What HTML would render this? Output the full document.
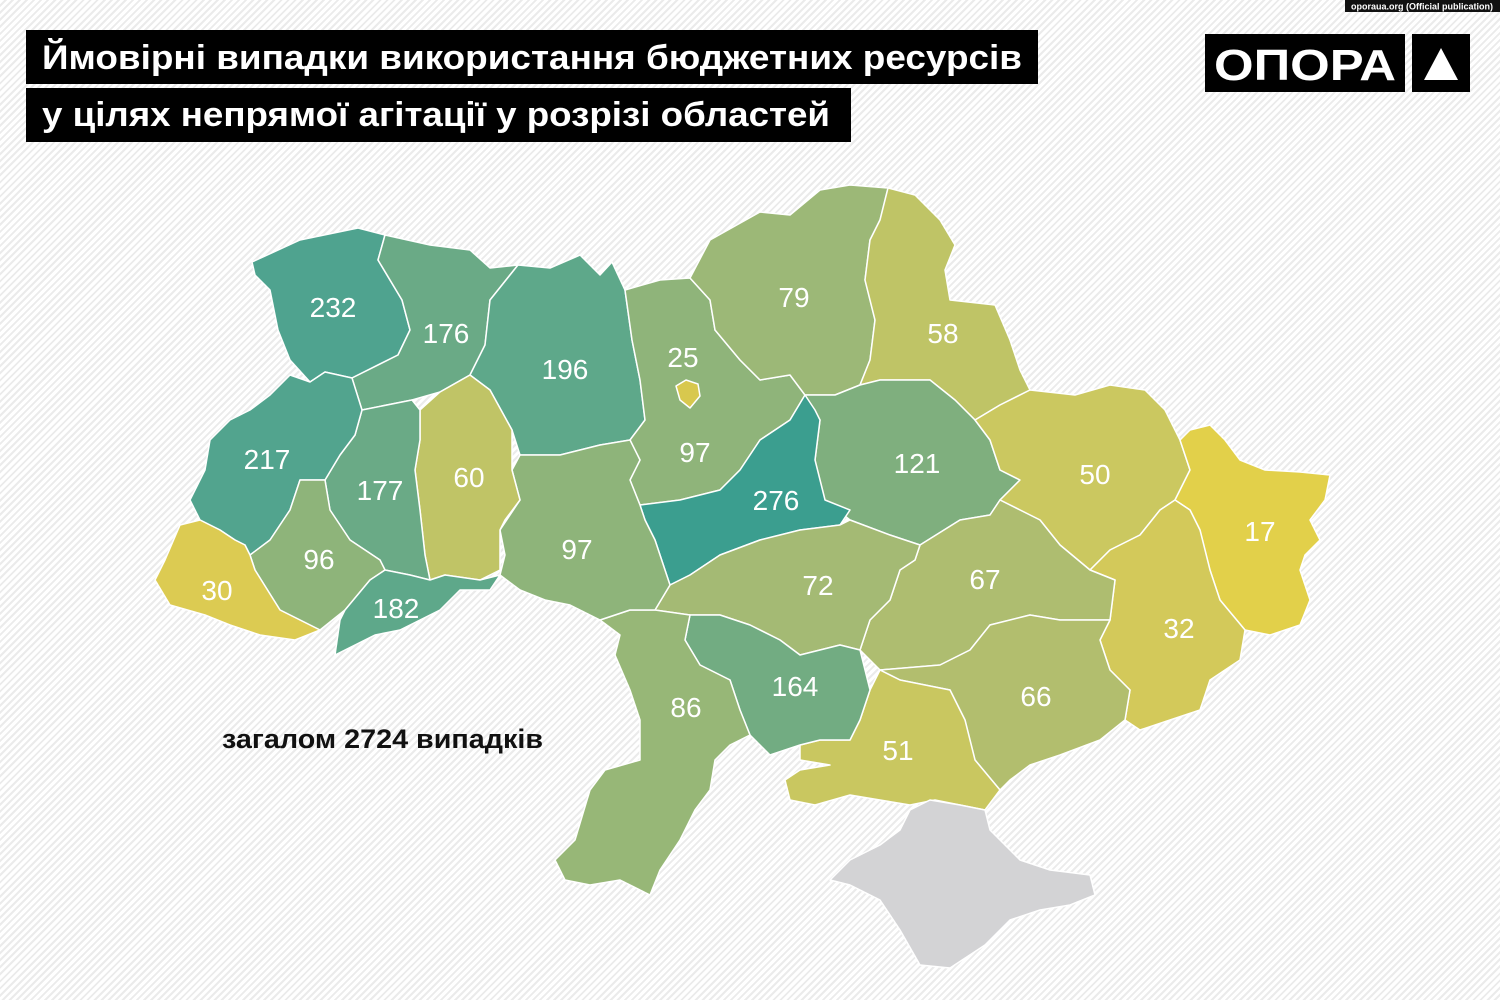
<!DOCTYPE html>
<html><head><meta charset="utf-8"><style>
html,body{margin:0;padding:0}
body{width:1500px;height:1000px;overflow:hidden;background:repeating-linear-gradient(135deg,#fff 0 3px,#ebebeb 3px 5px);}
svg{position:absolute;left:0;top:0}
</style></head><body>
<svg width="1500" height="1000" viewBox="0 0 1500 1000" font-family="'Liberation Sans', 'DejaVu Sans', sans-serif">
<rect x="1345" y="0" width="155" height="12" fill="#111"/>
<text x="1422" y="9.5" font-size="9" font-weight="bold" fill="#fff" text-anchor="middle">oporaua.org (Official publication)</text>
<rect x="26" y="30" width="1012" height="54" fill="#000"/>
<text x="42" y="69" font-size="34" font-weight="bold" fill="#fff" textLength="980" lengthAdjust="spacingAndGlyphs">Ймовірні випадки використання бюджетних ресурсів</text>
<rect x="26" y="88" width="825" height="54" fill="#000"/>
<text x="42" y="126" font-size="34" font-weight="bold" fill="#fff" textLength="788" lengthAdjust="spacingAndGlyphs">у цілях непрямої агітації у розрізі областей</text>
<rect x="1205" y="34" width="200" height="58" fill="#000"/>
<text x="1305" y="80" font-size="44" font-weight="bold" fill="#fff" text-anchor="middle" textLength="182" lengthAdjust="spacingAndGlyphs">ОПОРА</text>
<rect x="1412" y="34" width="58" height="58" fill="#000"/>
<polygon points="1441,48 1424,80 1458,80" fill="#fff"/>
<g stroke="#fff" stroke-width="1.5" stroke-linejoin="round">
<polygon fill="#4fa38f" points="252,262 300,240 358,228 385,235 378,260 402,300 410,330 398,355 352,378 325,372 310,382 290,360 278,330 270,290 255,275"/>
<polygon fill="#6aaa86" points="385,235 430,245 470,250 490,268 518,265 490,300 485,345 470,375 440,392 412,400 362,410 352,378 398,355 410,330 402,300 378,260"/>
<polygon fill="#5ea88a" points="518,265 550,268 580,255 600,275 612,262 625,290 632,340 640,380 645,420 630,440 600,445 560,455 520,455 512,430 490,390 470,375 485,345 490,300"/>
<polygon fill="#8fb47a" points="625,290 660,280 690,278 710,300 715,330 740,360 760,380 790,375 805,395 790,420 760,440 740,470 720,490 680,500 640,505 630,480 640,460 630,440 645,420 640,380 632,340"/>
<polygon fill="#9cb877" points="690,278 710,240 760,212 790,215 820,190 850,185 888,188 880,220 870,240 865,280 875,320 870,360 860,385 835,395 805,395 790,375 760,380 740,360 715,330 710,300"/>
<polygon fill="#bfc466" points="888,188 915,195 940,220 955,245 945,270 950,300 995,305 1010,340 1020,370 1030,390 1000,405 975,420 955,400 930,380 880,380 860,385 870,360 875,320 865,280 870,240 880,220"/>
<polygon fill="#7faf7e" points="805,395 835,395 860,385 880,380 930,380 955,400 975,420 990,440 1000,470 1020,480 1000,500 990,515 960,520 920,545 890,535 850,520 825,500 815,460 820,420"/>
<polygon fill="#3b9e8f" points="640,505 680,500 720,490 740,470 760,440 790,420 805,395 815,410 820,420 815,460 825,500 850,510 840,525 800,530 760,540 720,555 690,575 670,585 655,540 645,520"/>
<polygon fill="#cbc860" points="1000,405 1030,390 1075,395 1110,385 1145,390 1165,410 1180,440 1190,470 1175,500 1160,510 1140,535 1110,550 1090,570 1060,545 1040,520 1020,510 1000,500 1020,480 1000,470 990,440 975,420"/>
<polygon fill="#e2d04a" points="1190,430 1210,425 1225,440 1240,460 1265,470 1300,472 1330,475 1325,500 1310,520 1320,540 1305,555 1300,570 1310,600 1300,625 1270,635 1245,630 1220,600 1210,570 1200,530 1190,510 1175,500 1190,470 1180,440"/>
<polygon fill="#d3c95a" points="1160,510 1175,500 1190,510 1200,530 1210,570 1220,600 1245,630 1240,660 1210,680 1200,710 1170,720 1140,730 1125,720 1130,690 1110,670 1100,640 1110,620 1115,580 1090,570 1110,550 1140,535"/>
<polygon fill="#aebd70" points="920,545 960,520 990,515 1000,500 1020,510 1040,520 1060,545 1090,570 1115,580 1110,620 1060,620 1030,615 990,625 970,650 940,665 880,670 860,650 870,620 890,600 900,570 915,560"/>
<polygon fill="#a4ba74" points="655,610 670,585 690,575 720,555 760,540 800,530 840,525 850,520 890,535 920,545 915,560 900,570 890,600 870,620 860,650 840,645 800,655 780,640 750,625 720,615 690,615"/>
<polygon fill="#b2be6e" points="880,670 940,665 970,650 990,625 1030,615 1060,620 1110,620 1100,640 1110,670 1130,690 1125,720 1100,740 1060,755 1030,765 1010,780 1000,790 975,760 965,720 950,690 900,680"/>
<polygon fill="#c9c760" points="800,745 820,740 850,740 860,720 870,690 880,670 900,680 950,690 965,720 975,760 1000,790 985,810 960,805 935,800 910,805 880,800 850,795 815,805 790,800 785,780 800,770 830,765 800,760"/>
<polygon fill="#72ac82" points="690,615 720,615 750,625 780,640 800,655 840,645 860,650 870,690 860,720 850,740 820,740 800,745 770,755 750,735 740,710 730,680 700,665 685,640"/>
<polygon fill="#97b777" points="655,610 690,615 685,640 700,665 730,680 740,710 750,735 730,745 715,760 710,790 695,810 680,840 660,870 650,895 620,880 590,885 565,880 555,860 575,840 590,790 605,770 640,760 640,720 630,690 615,655 620,635 600,620 630,610"/>
<polygon fill="#8eb47a" points="520,455 560,455 600,445 630,440 640,460 630,480 640,505 645,520 655,540 670,585 655,610 630,610 600,620 570,605 545,600 520,590 500,575 505,555 500,530 520,500 512,470"/>
<polygon fill="#c0c466" points="420,410 440,392 470,375 490,390 512,430 512,470 520,500 505,520 500,530 500,570 480,580 445,575 430,580 425,555 420,510 415,470 420,440"/>
<polygon fill="#6aaa86" points="362,410 412,400 420,410 420,440 415,470 420,510 425,555 430,580 410,575 385,570 380,560 350,540 330,510 325,480 340,455 355,435"/>
<polygon fill="#52a48e" points="310,382 325,372 352,378 362,410 355,435 340,455 325,480 300,480 290,510 270,540 250,555 245,545 235,540 220,530 200,520 190,500 205,470 210,440 230,420 250,410 270,395 290,375"/>
<polygon fill="#8eb47a" points="250,555 270,540 290,510 300,480 325,480 330,510 350,540 380,560 385,570 370,580 345,610 320,630 300,620 280,610 255,570"/>
<polygon fill="#dccb52" points="180,525 200,520 220,530 235,540 245,545 250,555 255,570 280,610 300,620 320,630 295,640 260,635 230,625 205,615 170,605 155,580 165,560"/>
<polygon fill="#5ea88a" points="385,570 410,575 430,580 445,575 480,580 500,575 490,590 460,590 440,610 420,620 400,630 375,635 345,650 335,655 340,620 345,610 370,580"/>
<polygon fill="#d3d3d5" points="830,880 850,860 880,845 900,830 910,810 930,800 960,805 985,810 990,830 1020,860 1050,870 1090,875 1095,895 1070,905 1040,910 1010,920 985,945 950,968 920,965 900,930 880,900 850,885"/>
<polygon fill="#d8c84e" points="676,386 686,380 698,384 700,396 690,408 680,400"/>
</g>
<g fill="#fff" font-size="28" text-anchor="middle">
<text x="333" y="317">232</text><text x="446" y="343">176</text><text x="565" y="379">196</text>
<text x="683" y="367">25</text><text x="794" y="307">79</text><text x="943" y="343">58</text>
<text x="267" y="469">217</text><text x="380" y="500">177</text><text x="469" y="487">60</text>
<text x="695" y="462">97</text><text x="776" y="510">276</text><text x="917" y="473">121</text>
<text x="1095" y="484">50</text><text x="1260" y="541">17</text><text x="319" y="569">96</text>
<text x="577" y="559">97</text><text x="217" y="600">30</text><text x="396" y="618">182</text>
<text x="818" y="595">72</text><text x="985" y="589">67</text><text x="1179" y="638">32</text>
<text x="795" y="696">164</text><text x="686" y="717">86</text><text x="1036" y="706">66</text>
<text x="898" y="760">51</text>
</g>
<text x="222" y="748" font-size="27" font-weight="bold" fill="#111" textLength="321" lengthAdjust="spacingAndGlyphs">загалом 2724 випадків</text>
</svg>
</body></html>
